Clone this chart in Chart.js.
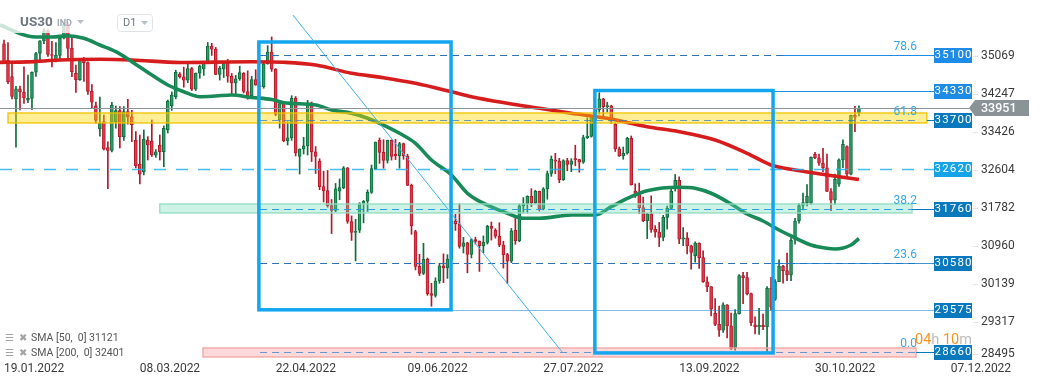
<!DOCTYPE html>
<html><head><meta charset="utf-8">
<script src="https://cdn.jsdelivr.net/npm/chart.js@4.4.0/dist/chart.umd.min.js"></script>
<style>html,body{margin:0;padding:0;background:#fff;overflow:hidden}#wrap{width:1041px;height:385px;position:relative}</style>
</head><body><div id="wrap"><canvas id="c" width="1041" height="385"></canvas></div>
<script>
// ---------- DATA ----------
const dates = ['19.01','20.01','21.01','24.01','25.01','26.01','27.01','28.01','31.01',
'01.02','02.02','03.02','04.02','07.02','08.02','09.02','10.02','11.02','14.02','15.02','16.02','17.02','18.02','21.02','22.02','23.02','24.02','25.02','28.02',
'01.03','02.03','03.03','04.03','07.03','08.03','09.03','10.03','11.03','13.03','14.03','15.03','16.03','17.03','18.03','20.03','21.03','22.03','23.03','24.03','25.03','28.03','29.03','30.03','31.03',
'01.04','04.04','05.04','06.04','07.04','08.04','11.04','12.04','13.04','14.04','18.04','19.04','20.04','21.04','22.04','25.04','26.04','27.04','28.04','29.04',
'02.05','03.05','04.05','05.05','06.05','09.05','10.05','11.05','12.05','13.05','16.05','17.05','18.05','19.05','20.05','23.05','24.05','25.05','26.05','27.05','31.05',
'01.06','02.06','03.06','06.06','07.06','08.06','09.06','10.06','13.06','14.06','15.06','16.06','17.06','20.06','21.06','22.06','23.06','24.06','27.06','28.06','29.06','30.06',
'01.07','04.07','05.07','06.07','07.07','08.07','11.07','12.07','13.07','14.07','15.07','18.07','19.07','20.07','21.07','22.07','25.07','26.07','27.07','28.07','29.07',
'01.08','02.08','03.08','04.08','05.08','08.08','09.08','10.08','11.08','12.08','15.08','16.08','17.08','18.08','19.08','22.08','23.08','24.08','25.08','26.08','29.08','30.08','31.08',
'01.09','02.09','05.09','06.09','07.09','08.09','09.09','12.09','13.09','14.09','15.09','16.09','19.09','20.09','21.09','22.09','23.09','26.09','27.09','28.09','29.09','30.09',
'03.10','04.10','05.10','06.10','07.10','10.10','11.10','12.10','13.10','14.10','17.10','18.10','19.10','20.10','21.10','24.10','25.10','26.10','27.10','28.10','30.10','31.10',
'01.11','02.11','03.11','04.11','07.11','08.11','09.11','10.11','11.11','14.11'];

const open = [35340,34992,34630,34150,34365,34298,34120,34160,34725,35132,
35405,35629,35111,35000,35091,35463,35768,35242,34700,34566,
34989,34934,34312,34000,33500,33654,33090,33030,33654,33893,
33329,33871,33760,33250,32730,32570,33257,33235,32930,33148,
33004,33474,34000,34196,34688,34629,34553,34807,34359,34708,
34800,34956,35294,35229,34678,34800,34922,34641,34497,34584,
34700,34308,34220,34565,34420,34412,34911,35161,34793,33700,
34049,33240,33302,34160,32900,33062,33129,34061,32998,32800,
32246,32161,31834,31730,32150,32223,32655,31490,31253,31300,
31880,31929,32120,32637,33250,32990,32813,33248,32950,32916,
33180,32911,32273,31270,30517,30365,30669,29927,29889,30200,
30530,30483,30677,31501,31438,30947,31029,30775,31097,31060,
30968,31038,31385,31300,31174,30981,30773,30630,31300,31073,
31827,31875,32037,31900,32145,31762,32198,32530,32800,32798,
32396,32812,32727,32850,32833,32774,33310,33337,33700,33912,
34152,33980,33999,33600,33064,32910,32969,33292,32150,32099,
31791,31510,31656,31318,31260,31145,31581,31775,32200,32381,
31105,31135,30962,30750,31020,30706,30184,30077,29500,29261,
29135,29684,29226,28750,29491,30316,30274,29927,29250,29203,
29239,29211,30039,29800,30186,30524,30424,30334,31100,31500,
31837,31900,31885,32947,32873,32752,32653,32140,31950,32300,
32827,33112,32514,33790,33850];

const high = [35425,35367,34900,34420,34424,34842,34666,34736,35158,35414,
35674,35650,35398,35370,35479,35824,35800,35486,34879,35001,
35050,34950,34460,34080,34190,33800,33220,34074,33990,33980,
33980,34140,33900,33437,33366,33474,33330,33691,33050,33366,
33560,34124,34300,34770,34720,34838,34940,34830,34710,34880,
34961,35372,35355,35264,34856,34953,35005,34700,34660,34857,
34720,34757,34640,34780,34516,34958,35302,35492,34805,34071,
34060,33655,34218,34200,33066,33316,34117,34080,33114,32850,
32580,32597,31966,32315,32412,32681,32660,31610,31538,31898,
31946,32174,32715,33213,33300,33264,33254,33260,33272,33206,
33190,32950,32300,31300,30778,31018,30700,30150,30270,30583,
30788,30771,31519,31646,31877,31146,31040,31120,31150,31070,
31177,31409,31479,31336,31464,31062,30800,31340,31622,31869,
32008,32048,32201,32168,32150,32225,32584,32910,32967,32859,
32829,32860,32854,33143,32840,33361,33737,33762,33984,34282,
34160,34077,34010,33620,33106,33106,33317,33344,32307,32322,
32018,31668,32046,31400,31474,31624,31826,32241,32509,32460,
31360,31252,30980,31050,31030,30855,30291,30080,29819,29656,
29727,29690,29505,29581,30341,30386,30390,29940,29424,29607,
29484,30078,30282,30233,30659,30538,30805,31139,31556,31876,
32104,32289,32892,32990,32952,33074,32952,32202,32519,32849,
33263,33130,33800,33987,34000];

const low = [34940,34480,34150,33099,33910,34049,34069,33914,34637,34962,
35344,35070,34844,34950,34970,35450,35008,34632,34289,34550,
34528,34244,33940,33620,33340,33040,32200,33000,33516,33084,
33250,33600,33220,32650,32303,32500,32824,32900,32880,32824,
32678,33409,33900,34150,34600,34402,34500,34330,34329,34595,
34658,34950,35090,34672,34556,34612,34510,34240,34250,34550,
34277,34141,34205,34443,34204,34380,34900,34744,33782,33514,
33218,33148,33250,32910,32519,32953,32932,32790,32531,32179,
31913,31800,31228,31700,31962,32200,31451,31080,30636,31250,
31461,31707,32100,32620,32750,32645,32756,32821,32832,32645,
32839,32270,31212,30439,30317,30340,29890,29653,29850,30150,
30164,30256,30650,31296,30911,30807,30377,30700,31000,30407,
30814,31000,31086,31129,30944,30480,30144,30600,30997,31050,
31674,31674,31811,31880,31716,31740,31972,32468,32525,32331,
32380,32588,32571,32697,32559,32750,33288,33320,33610,33820,
33723,33864,33617,33008,32901,32839,32950,32281,32010,31660,
31487,31119,31254,31150,30947,31071,31326,31770,32150,31010,
30965,30786,30454,30610,30473,30170,29971,29440,29232,28996,
29085,28965,28715,28700,29480,29707,29897,29233,29053,29044,
29142,28661,29570,29780,30185,30155,30206,30206,31000,31456,
31741,31830,31860,32850,32706,32569,32136,31727,31859,32250,
32657,32479,32500,33437,33780];

const close = [34950,34521,34200,34365,34298,34168,34160,34725,35132,35405,
35629,35111,35090,35091,35463,35768,35242,34738,34566,34989,
34934,34312,34079,33680,33625,33060,33030,34016,33893,33329,
33871,33760,33583,32700,32514,33272,33148,32932,33000,33004,
33512,34100,34233,34726,34629,34553,34807,34359,34708,34861,
34956,35294,35229,34678,34818,34922,34641,34497,34584,34721,
34308,34220,34565,34451,34412,34911,35161,34793,33811,34049,
33240,33302,34160,32977,33062,33129,34061,32998,32899,32246,
32161,31834,31730,32197,32223,32655,31490,31253,31262,31880,
31929,32120,32637,33213,32990,32813,33248,32900,32916,33180,
32911,32273,31393,30517,30365,30669,29927,29889,30200,30530,
30483,30677,31501,31438,30947,31029,30775,31097,31060,30968,
31038,31385,31338,31174,30981,30773,30630,31288,31073,31827,
31875,32037,31899,32145,31762,32198,32530,32845,32798,32396,
32812,32727,32803,32833,32774,33310,33337,33761,33912,34152,
33980,33999,33707,33064,32910,32969,33292,32283,32099,31791,
31510,31656,31318,31260,31145,31581,31775,32152,32381,31105,
31135,30962,30822,31020,30706,30184,30077,29590,29261,29135,
29684,29226,28726,29491,30316,30274,29927,29297,29203,29239,
29211,30039,29635,30186,30524,30424,30334,31083,31500,31837,
31900,32034,32880,32873,32752,32653,32140,31950,32403,32827,
33161,32514,33790,33750,33951];

const sma50Bar = [-1,7,12,16,20,24,28,32,37,41,45,49,53,57,62,67,70,78,82,87,91,95,99,103,107,112,116,122,126,130,134,142,148,152,157,161,169,173,177,182,186,190,194,197,202,206,208,212,214];
const sma50Val = [35750,35497,35490,35518,35462,35317,35172,34955,34666,34450,34304,34196,34211,34233,34179,34135,34066,34016,33908,33836,33728,33582,33402,33185,32823,32498,32102,31805,31668,31560,31560,31631,31631,31811,32028,32158,32232,32210,32102,31870,31653,31501,31306,31176,30981,30909,30894,30981,31121];
const sma200Bar = [-1,6,14,24,32,44,62,70,78,87,95,103,112,117,126,134,142,151,161,169,178,186,192,198,206,214];
const sma200Val = [34940,34950,34992,35007,34992,34937,34955,34942,34883,34703,34608,34486,34304,34196,34053,33944,33836,33728,33546,33437,33257,32969,32715,32607,32499,32401];

const xTickLabels = ['19.01.2022','08.03.2022','22.04.2022','09.06.2022','27.07.2022','13.09.2022','30.10.2022','07.12.2022'];
const yTickValues = [35069,34247,33426,32604,31782,30960,30139,29317,28495];
const lastPrice = 33951;
const sma50Last = 31121, sma200Last = 32401;

// price levels with tags on the right
const levelPrice = [35100,34330,33700,32620,31760,30580,29575,28660];
const levelStartBar = [195,192.5,231,-1,227.3,192.5,111.9,228.3];
// fibonacci levels
const fibName = ['78.6','61.8','38.2','23.6','0.0'];
const fibPrice = [35100,33700,31760,30580,28660];
const fibBars = [64.1,228];
// zones (yellow, green, pink)
const zoneLow = [33626,31675,28553];
const zoneHigh = [33843,31870,28748];
const zoneFromBar = [1,39,49.8];
const zoneToBar = [231,227.3,228.3];
// rectangles
const rectFromBar = [63.8,147.9];
const rectToBar = [111.9,192.5];
const rectLow = [29575,28640];
const rectHigh = [35382,34330];
// trend line
const trendBar = [72.3,139.7];
const trendPrice = [35967,28660];

// ---------- CHART ----------
Chart.defaults.font.family = 'Roboto';
const up = close.map((c,i)=>c>=open[i]);
const bodyFill = up.map(u=>u?'#2a9c67':'#e3394a');
const edge = up.map(u=>u?'#0f6c3c':'#b3192a');
const tickBars = xTickLabels.map(l=>dates.indexOf(l.slice(0,5)));
for(let k=0;k<tickBars.length;k++){ if(tickBars[k]<0) tickBars[k]=tickBars[k-1]+(tickBars[k-1]-tickBars[k-2]); }

const overlay = {
  id:'overlay',
  afterDatasetsDraw(chart){
    const ctx=chart.ctx, X=chart.scales.x, Y=chart.scales.y, A=chart.chartArea;
    const px=v=>X.getPixelForValue(v), py=v=>Y.getPixelForValue(v);
    const tagX = A.right-107, tagW=38, tagH=15;
    ctx.save();
    // long dashed 32620 line
    ctx.setLineDash([12,10]); ctx.lineWidth=1.6; ctx.strokeStyle='rgba(41,176,240,0.85)';
    ctx.beginPath(); ctx.moveTo(px(levelStartBar[3]),Math.round(py(levelPrice[3]))+0.5); ctx.lineTo(tagX,Math.round(py(levelPrice[3]))+0.5); ctx.stroke();
    ctx.setLineDash([]);
    // zones
    const zFill=['rgba(255,214,0,0.42)','rgba(100,218,175,0.33)','rgba(248,140,140,0.32)'];
    const zEdge=['#f2c200','#94dcc2','#f3a3a3'];
    for(let z=0;z<zoneLow.length;z++){
      const x1=px(zoneFromBar[z]), x2=px(zoneToBar[z]), y1=py(zoneHigh[z]), y2=py(zoneLow[z]);
      ctx.fillStyle=zFill[z]; ctx.fillRect(x1,y1,x2-x1,y2-y1);
      ctx.lineWidth=1.3; ctx.strokeStyle=zEdge[z]; ctx.strokeRect(x1,y1,x2-x1,y2-y1);
    }
    // fib dashed lines
    ctx.setLineDash([7,5]); ctx.lineWidth=1.1;
    const fibCol=['#2d72b8','rgba(40,120,190,0.7)','#2a9ee0','#2d72b8','rgba(40,120,200,0.7)'];
    for(let f=0;f<fibPrice.length;f++){
      const y=Math.round(py(fibPrice[f]))+0.5; ctx.strokeStyle=fibCol[f];
      ctx.beginPath(); ctx.moveTo(px(fibBars[0]),y); ctx.lineTo(px(fibBars[1]),y); ctx.stroke();
    }
    ctx.setLineDash([]);
    // solid level lines to tags
    const tagCol=['#1e8ce6','#1e8ce6','#0a78bd','#17a3e8','#0a78bd','#0a78bd','#0a78bd','#0a78bd'];
    for(let l=0;l<levelPrice.length;l++){
      if(l===3) continue;
      const y=Math.round(py(levelPrice[l]))+0.5;
      ctx.lineWidth=1; ctx.strokeStyle = (l===6)?'rgba(30,130,210,0.55)':(l===5?'rgba(20,120,200,0.8)':tagCol[l]);
      ctx.beginPath(); ctx.moveTo(px(levelStartBar[l]),y); ctx.lineTo(tagX,y); ctx.stroke();
    }
    // rectangles
    ctx.lineWidth=3.5; ctx.strokeStyle='#13a6ef';
    for(let r=0;r<rectLow.length;r++){
      const x1=px(rectFromBar[r]), x2=px(rectToBar[r]), y1=py(rectHigh[r]), y2=py(rectLow[r]);
      ctx.strokeRect(x1,y1,x2-x1,y2-y1);
    }
    // trend line
    ctx.lineWidth=1; ctx.strokeStyle='#3db2f2';
    ctx.beginPath(); ctx.moveTo(px(trendBar[0]),py(trendPrice[0])); ctx.lineTo(px(trendBar[1]),py(trendPrice[1])); ctx.stroke();
    // current price line
    const yl=Math.round(py(lastPrice))+0.5;
    ctx.strokeStyle='#8d979a'; ctx.lineWidth=1;
    ctx.beginPath(); ctx.moveTo(A.left,yl); ctx.lineTo(A.right-72,yl); ctx.stroke();
    // fib labels
    ctx.font='12px Roboto'; ctx.fillStyle='#35a8e6'; ctx.textAlign='right'; ctx.textBaseline='bottom';
    for(let f=0;f<fibPrice.length;f++){ ctx.fillText(fibName[f], px(fibBars[1])+2, py(fibPrice[f])-2); }
    // tags
    ctx.font='11.5px Roboto'; ctx.textAlign='center'; ctx.textBaseline='middle';
    for(let l=0;l<levelPrice.length;l++){
      const y=Math.round(py(levelPrice[l]));
      ctx.fillStyle=tagCol[l]; ctx.fillRect(tagX,y-7,tagW,tagH);
      ctx.fillStyle='#ffffff'; ctx.fillText(String(levelPrice[l]).split('').join(String.fromCharCode(8202)), tagX+tagW/2, y+0.5);
    }
    // current price tag
    const yc=py(lastPrice), tx=A.right-72;
    ctx.fillStyle='#8a9497';
    ctx.beginPath(); ctx.moveTo(tx,yc); ctx.lineTo(tx+6,yc-8); ctx.lineTo(A.right-12,yc-8); ctx.lineTo(A.right-12,yc+8); ctx.lineTo(tx+6,yc+8); ctx.closePath(); ctx.fill();
    ctx.fillStyle='#fff'; ctx.font='500 12.5px Roboto'; ctx.textAlign='left';
    ctx.fillText(String(lastPrice), A.right-60, yc+0.5);
    // y tick labels
    ctx.font='12px Roboto'; ctx.fillStyle='#3a3a3a'; ctx.textAlign='left'; ctx.textBaseline='middle';
    for(const v of yTickValues){
      let y=py(v); y=Math.min(y,A.bottom-6);
      ctx.strokeStyle='#e3e3e3'; ctx.beginPath(); ctx.moveTo(A.right-68,Math.round(y)+0.5); ctx.lineTo(A.right-63,Math.round(y)+0.5); ctx.stroke();
      ctx.fillText(String(v), A.right-60, y);
    }
    // countdown
    ctx.font='14.5px Roboto'; ctx.textBaseline='middle'; ctx.textAlign='left';
    let cx=tagX-19; const cy=py(fibPrice[4])-12;
    const parts=[['04','#f7931e'],['h','#bdbdbd'],[' 10','#f7931e'],['m','#bdbdbd']];
    for(const [t,c] of parts){ ctx.fillStyle=c; ctx.fillText(t,cx,cy); cx+=ctx.measureText(t).width; }
    // legend
    ctx.textBaseline='middle';
    const rows=[['SMA [50,  0] '+sma50Last, 338],['SMA [200,  0] '+sma200Last, 353]];
    for(const [t,y] of rows){
      ctx.fillStyle='#a3a3a3'; ctx.font='10px "DejaVu Sans"'; ctx.fillText('\u2630',5,y); ctx.fillText('\u2716',19,y);
      ctx.fillStyle='#555'; ctx.font='10.5px Roboto'; ctx.fillText(t,31,y);
    }
    // header
    ctx.fillStyle='rgba(255,255,255,0.78)'; ctx.fillRect(0,0,160,33);
    ctx.fillStyle='#6d7580'; ctx.font='bold 13.5px Roboto'; ctx.fillText('US30',20,22.5);
    ctx.fillStyle='#a0aab4'; ctx.font='bold 9px Roboto'; ctx.fillText('IND',57,24);
    ctx.fillStyle='#b8c0c8';
    ctx.beginPath(); ctx.moveTo(77,20); ctx.lineTo(84,20); ctx.lineTo(80.5,24); ctx.closePath(); ctx.fill();
    ctx.fillStyle='#fff'; ctx.strokeStyle='#dfe3e8'; ctx.lineWidth=1;
    ctx.beginPath(); ctx.roundRect(117.5,14.5,35,17,3); ctx.fill(); ctx.stroke();
    ctx.fillStyle='#707880'; ctx.font='11px Roboto'; ctx.fillText('D1',123,23.5);
    ctx.fillStyle='#b8c0c8';
    ctx.beginPath(); ctx.moveTo(141,21); ctx.lineTo(148,21); ctx.lineTo(144.5,25); ctx.closePath(); ctx.fill();
    ctx.restore();
  }
};

new Chart(document.getElementById('c'),{
  type:'bar',
  data:{datasets:[
    {type:'line',label:'SMA50',data:sma50Bar.map((b,i)=>({x:b,y:sma50Val[i]})),borderColor:'#178a57',borderWidth:3.6,pointRadius:0,cubicInterpolationMode:'monotone',order:0},
    {type:'line',label:'SMA200',data:sma200Bar.map((b,i)=>({x:b,y:sma200Val[i]})),borderColor:'#d61c1c',borderWidth:3.6,pointRadius:0,cubicInterpolationMode:'monotone',order:0},
    {label:'body',data:close.map((c,i)=>({x:i,y:[Math.min(open[i],c),Math.max(open[i],c)]})),backgroundColor:bodyFill,borderColor:edge,borderWidth:1,borderSkipped:false,barThickness:3,minBarLength:1,grouped:false,order:1},
    {label:'wick',data:close.map((c,i)=>({x:i,y:[low[i],high[i]]})),backgroundColor:edge,borderWidth:0,barThickness:1,grouped:false,order:2}
  ]},
  options:{
    responsive:false,animation:false,events:[],
    layout:{padding:0},
    plugins:{legend:{display:false},tooltip:{enabled:false}},
    scales:{
      x:{type:'linear',min:-1.0013,max:259.57,offset:false,
        grid:{display:false,drawTicks:false},border:{display:false},
        afterBuildTicks:s=>{s.ticks=tickBars.map(v=>({value:v}));},
        afterFit:s=>{s.height=25;},
        ticks:{autoSkip:false,maxRotation:0,align:'start',padding:2,color:'#3a3a3a',font:{size:12},callback:(v,i)=>xTickLabels[i]}},
      y:{type:'linear',display:false,min:28486.9,max:36292.5}
    }
  },
  plugins:[overlay]
});
</script></body></html>
